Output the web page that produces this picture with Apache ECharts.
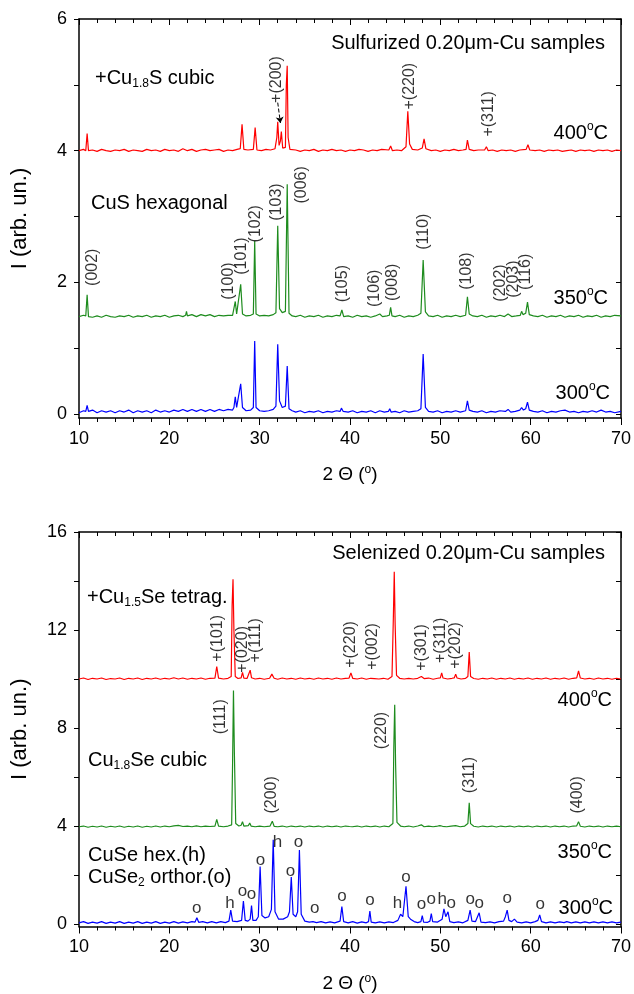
<!DOCTYPE html>
<html>
<head>
<meta charset="utf-8">
<script src="https://cdn.jsdelivr.net/npm/echarts@6/dist/echarts.min.js"></script>
<style>
  html, body { margin: 0; padding: 0; background: #fff; }
  #chart { width: 634px; height: 994px; }
</style>
</head>
<body>
<div id="chart"></div>
<script>
// --- top panel: sulfurized samples, [2theta, intensity] ---
const sulf400 = [[10,4.0],[10.5,4.02],[10.75,4.0],[10.9,4.26],[11.05,4.0],[11.5,4.01],[12,3.99],[12.5,4.02],[13,4.0],[13.5,3.99],[14,4.01],[14.5,4.0],[15,4.02],[15.5,3.99],[16,4.01],[16.5,4.0],[17,3.99],[17.5,4.02],[18,4.0],[18.5,4.01],[19,3.99],[19.5,4.02],[20,4.0],[20.5,4.01],[21,3.99],[21.5,4.03],[22,4.0],[22.5,4.02],[23,3.99],[23.5,4.01],[24,4.02],[24.5,4.0],[25,4.01],[25.5,4.02],[26,3.99],[26.5,4.01],[27,4.0],[27.5,4.02],[27.85,4.03],[28.05,4.4],[28.25,4.02],[28.7,4.01],[29.3,4.02],[29.5,4.35],[29.7,4.01],[30.2,4.0],[30.7,4.02],[31.2,4.01],[31.7,4.03],[31.9,4.2],[32.0,4.44],[32.15,4.08],[32.3,4.15],[32.4,4.29],[32.55,4.04],[32.85,4.05],[32.95,5.0],[33.05,5.29],[33.15,4.2],[33.35,4.02],[34,4.01],[34.5,3.99],[35,4.01],[35.5,4.0],[36,4.02],[36.5,3.99],[37,4.01],[37.5,4.0],[38,4.02],[38.5,4.0],[39,4.01],[39.5,3.99],[40,4.01],[40.5,4.0],[41,4.02],[41.5,4.01],[42,3.99],[42.5,4.01],[43,4.0],[43.5,4.02],[44.3,4.01],[44.5,4.07],[44.7,4.0],[45.2,4.01],[45.7,4.0],[46.2,4.06],[46.4,4.6],[46.6,4.1],[46.9,4.02],[47.5,4.01],[48.0,4.04],[48.2,4.18],[48.4,4.03],[49,4.0],[49.5,4.01],[50,3.99],[50.5,4.01],[51,4.0],[51.5,4.02],[52,4.0],[52.5,4.01],[52.85,4.02],[53.0,4.16],[53.2,4.02],[53.7,4.0],[54.2,4.01],[54.9,4.01],[55.1,4.06],[55.3,4.0],[55.8,4.01],[56.3,3.99],[56.8,4.01],[57.3,4.0],[57.8,4.01],[58.3,3.99],[58.8,4.01],[59.5,4.02],[59.7,4.09],[59.9,4.01],[60.5,4.0],[61,4.01],[61.5,3.99],[62,4.01],[62.5,4.0],[63,4.01],[63.5,3.99],[64,4.0],[64.5,4.01],[65,3.99],[65.5,4.01],[66,4.0],[66.5,4.01],[67,3.99],[67.5,4.01],[68,4.0],[68.5,4.01],[69,3.99],[69.5,4.01],[70,4.0]];

const sulf350 = [[10,1.48],[10.5,1.5],[10.75,1.49],[10.9,1.81],[11.05,1.48],[11.5,1.47],[12,1.49],[12.5,1.47],[13,1.5],[13.5,1.48],[14,1.47],[14.5,1.49],[15,1.48],[15.5,1.5],[16,1.47],[16.5,1.49],[17,1.48],[17.5,1.5],[18,1.47],[18.5,1.49],[19,1.48],[19.5,1.5],[20,1.47],[20.5,1.49],[21,1.5],[21.5,1.48],[21.8,1.5],[21.9,1.56],[22.0,1.49],[22.5,1.51],[23,1.48],[23.5,1.51],[24,1.49],[24.5,1.51],[25,1.48],[25.5,1.5],[26,1.49],[26.5,1.5],[27.0,1.5],[27.15,1.53],[27.3,1.71],[27.45,1.52],[27.6,1.55],[27.9,1.97],[28.1,1.52],[28.5,1.49],[29.0,1.5],[29.3,1.52],[29.45,2.63],[29.6,1.52],[30.0,1.49],[30.5,1.5],[31.0,1.49],[31.5,1.51],[31.8,1.54],[32.0,2.86],[32.2,1.6],[32.5,1.54],[32.85,1.56],[33.05,3.49],[33.25,1.53],[33.6,1.49],[34,1.48],[34.5,1.5],[35,1.47],[35.5,1.49],[36,1.48],[36.5,1.5],[37,1.47],[37.5,1.49],[38,1.48],[38.5,1.5],[38.9,1.49],[39.1,1.58],[39.3,1.48],[39.8,1.49],[40.3,1.47],[40.8,1.5],[41.3,1.48],[41.8,1.49],[42.3,1.47],[42.8,1.49],[43.3,1.52],[43.6,1.48],[44.1,1.49],[44.35,1.5],[44.5,1.62],[44.65,1.49],[45,1.48],[45.5,1.5],[46,1.47],[46.5,1.49],[47,1.48],[47.5,1.5],[47.85,1.53],[48.1,2.34],[48.35,1.55],[48.7,1.49],[49.2,1.48],[49.7,1.5],[50.2,1.47],[50.7,1.49],[51.2,1.48],[51.7,1.5],[52.2,1.48],[52.8,1.5],[53.0,1.78],[53.2,1.52],[53.6,1.49],[54.1,1.48],[54.6,1.5],[55.1,1.47],[55.6,1.49],[56.1,1.48],[56.6,1.5],[57.1,1.48],[57.5,1.52],[57.9,1.48],[58.4,1.49],[58.85,1.5],[59.0,1.56],[59.15,1.51],[59.45,1.53],[59.65,1.7],[59.85,1.51],[60.3,1.49],[60.8,1.48],[61.3,1.5],[61.8,1.47],[62.3,1.49],[62.8,1.48],[63.3,1.5],[63.8,1.47],[64.3,1.49],[64.8,1.48],[65.3,1.5],[65.8,1.47],[66.3,1.49],[66.8,1.48],[67.3,1.5],[67.8,1.47],[68.3,1.49],[68.8,1.48],[69.3,1.5],[70,1.49]];

const sulf300 = [[10,0.02],[10.5,0.05],[10.75,0.04],[10.9,0.13],[11.05,0.04],[11.5,0.06],[12,0.02],[12.5,0.05],[13,0.03],[13.5,0.05],[14,0.02],[14.5,0.05],[15,0.03],[15.5,0.06],[16,0.02],[16.5,0.05],[17,0.03],[17.5,0.05],[18,0.02],[18.5,0.06],[19,0.03],[19.5,0.05],[20,0.03],[20.5,0.06],[21,0.04],[21.5,0.07],[22,0.04],[22.5,0.07],[23,0.04],[23.5,0.07],[24,0.04],[24.5,0.07],[25,0.04],[25.5,0.07],[26,0.05],[26.5,0.07],[27.0,0.06],[27.15,0.1],[27.3,0.26],[27.45,0.1],[27.65,0.12],[27.9,0.46],[28.1,0.1],[28.5,0.05],[29.0,0.06],[29.3,0.1],[29.45,1.11],[29.6,0.1],[30.0,0.05],[30.5,0.04],[31.0,0.05],[31.5,0.07],[31.8,0.12],[32.0,1.06],[32.2,0.2],[32.5,0.1],[32.85,0.12],[33.05,0.73],[33.25,0.08],[33.6,0.05],[34,0.03],[34.5,0.05],[35,0.02],[35.5,0.04],[36,0.03],[36.5,0.05],[37,0.02],[37.5,0.04],[38,0.03],[38.5,0.05],[38.9,0.04],[39.05,0.09],[39.25,0.04],[39.8,0.03],[40.3,0.05],[40.8,0.02],[41.3,0.04],[41.8,0.03],[42.3,0.05],[42.8,0.02],[43.3,0.05],[43.8,0.03],[44.25,0.04],[44.4,0.08],[44.55,0.03],[45,0.04],[45.5,0.02],[46,0.05],[46.5,0.03],[47,0.04],[47.5,0.05],[47.85,0.08],[48.1,0.91],[48.35,0.1],[48.7,0.04],[49.2,0.03],[49.7,0.05],[50.2,0.02],[50.7,0.04],[51.2,0.03],[51.7,0.05],[52.2,0.03],[52.8,0.05],[53.0,0.2],[53.2,0.06],[53.6,0.04],[54.1,0.03],[54.6,0.05],[55.1,0.02],[55.6,0.04],[56.1,0.03],[56.6,0.05],[57.2,0.04],[57.5,0.07],[57.8,0.03],[58.3,0.04],[58.8,0.06],[59.0,0.1],[59.2,0.06],[59.45,0.08],[59.65,0.18],[59.85,0.06],[60.3,0.04],[60.8,0.03],[61.3,0.05],[61.8,0.02],[62.3,0.04],[62.8,0.03],[63.3,0.05],[63.8,0.06],[64.3,0.03],[64.8,0.04],[65.3,0.02],[65.8,0.04],[66.3,0.03],[66.8,0.05],[67.3,0.03],[67.8,0.06],[68.3,0.03],[68.8,0.04],[69.3,0.02],[70,0.04]];

// --- bottom panel: selenized samples ---
const sel400 = [[10,10.0],[10.5,10.04],[11,9.98],[11.5,10.03],[12,10.0],[12.5,10.04],[13,9.98],[13.5,10.02],[14,10.0],[14.5,10.04],[15,9.98],[15.5,10.03],[16,10.0],[16.5,10.04],[17,9.98],[17.5,10.03],[18,10.0],[18.5,10.04],[19,9.99],[19.5,10.03],[20,10.0],[20.5,10.05],[21,10.0],[21.5,10.04],[22,9.99],[22.5,10.03],[23,10.0],[23.5,10.04],[24,9.99],[24.5,10.03],[25.05,10.04],[25.25,10.51],[25.45,10.04],[26,10.0],[26.5,10.03],[26.85,10.1],[26.95,13.0],[27.05,14.07],[27.15,12.0],[27.3,10.1],[27.6,10.02],[27.95,10.05],[28.1,10.27],[28.25,10.04],[28.6,10.02],[28.8,10.06],[28.95,10.36],[29.1,10.05],[29.5,10.0],[30,10.03],[30.5,9.99],[31.1,10.03],[31.35,10.2],[31.6,10.03],[32,9.99],[32.5,10.04],[33,10.0],[33.5,10.03],[34,9.99],[34.5,10.04],[35,10.0],[35.5,10.03],[36,9.99],[36.5,10.04],[37,10.0],[37.5,10.03],[38,9.99],[38.5,10.04],[39,10.0],[39.5,10.03],[39.9,10.04],[40.1,10.25],[40.3,10.03],[40.8,10.0],[41.3,10.04],[41.8,9.99],[42.3,10.03],[42.5,10.1],[42.7,10.02],[43.2,10.0],[43.7,10.03],[44.2,9.99],[44.65,10.1],[44.8,12.5],[44.9,14.38],[45.0,12.2],[45.15,10.15],[45.5,10.03],[46,10.0],[46.5,10.03],[47,10.0],[47.5,10.03],[47.9,10.1],[48.2,10.02],[48.7,10.04],[49.2,9.99],[49.7,10.03],[50.0,10.05],[50.15,10.25],[50.3,10.04],[50.8,10.0],[51.3,10.03],[51.55,10.05],[51.7,10.2],[51.85,10.04],[52.3,10.0],[52.8,10.03],[53.05,10.1],[53.2,11.1],[53.35,10.1],[53.7,10.02],[54.2,9.99],[54.7,10.03],[55.2,10.0],[55.7,10.04],[56.2,9.99],[56.7,10.03],[57.2,10.0],[57.7,10.04],[58.2,9.99],[58.7,10.03],[59.2,10.0],[59.7,10.04],[60.2,9.99],[60.7,10.03],[61.2,10.0],[61.7,10.04],[62.2,9.99],[62.7,10.03],[63.2,10.0],[63.7,10.04],[64.2,9.99],[64.7,10.03],[65.1,10.05],[65.3,10.33],[65.5,10.04],[66,10.0],[66.5,10.03],[67,9.99],[67.5,10.04],[68,10.0],[68.5,10.03],[69,9.99],[69.5,10.03],[70,10.0]];

const sel350 = [[10,3.97],[10.5,4.0],[11,3.95],[11.5,3.99],[12,3.96],[12.5,4.0],[13,3.95],[13.5,3.99],[14,3.96],[14.5,4.0],[15,3.95],[15.5,3.99],[16,3.96],[16.5,4.0],[17,3.95],[17.5,3.99],[18,3.96],[18.5,4.0],[19,3.96],[19.5,4.0],[20,3.97],[20.5,4.01],[21,4.03],[21.5,3.98],[22,4.0],[22.5,3.97],[23,4.01],[23.5,3.97],[24,4.0],[24.5,3.98],[25.05,4.0],[25.25,4.27],[25.45,4.0],[26,3.97],[26.5,4.0],[26.9,4.05],[27.0,6.5],[27.1,9.53],[27.2,7.0],[27.35,4.1],[27.7,4.0],[27.95,4.03],[28.1,4.18],[28.25,4.0],[28.75,4.02],[28.9,4.12],[29.05,4.0],[29.5,3.97],[30,4.0],[30.5,3.97],[31.15,4.0],[31.4,4.2],[31.6,3.99],[32,3.97],[32.5,4.0],[33,3.96],[33.5,4.0],[34,3.97],[34.5,4.0],[35,3.96],[35.5,4.0],[36,3.97],[36.5,4.0],[37,3.96],[37.5,4.0],[38,3.97],[38.5,4.0],[39,3.96],[39.5,4.0],[39.95,3.98],[40.1,4.06],[40.25,3.97],[40.8,4.0],[41.3,3.96],[41.8,4.0],[42.3,3.97],[42.8,4.0],[43.3,3.96],[43.8,4.0],[44.3,3.97],[44.75,4.1],[44.85,7.2],[44.95,8.95],[45.05,6.5],[45.2,4.15],[45.6,4.0],[46,3.97],[46.5,4.0],[47,3.96],[47.5,4.0],[47.9,4.05],[48.2,3.97],[48.7,4.0],[49.2,3.97],[49.7,4.0],[49.95,4.02],[50.1,4.1],[50.25,3.99],[50.7,3.97],[51.2,4.0],[51.7,4.02],[52.2,3.97],[52.7,4.0],[53.05,4.1],[53.2,4.95],[53.35,4.1],[53.7,3.99],[54.2,3.96],[54.7,4.0],[55.2,3.97],[55.7,4.0],[56.2,3.96],[56.7,4.0],[57.2,3.97],[57.7,4.0],[58.2,3.96],[58.7,4.0],[59.2,3.97],[59.7,4.0],[60.2,3.96],[60.7,4.0],[61.2,3.97],[61.7,4.0],[62.2,3.96],[62.7,4.0],[63.2,3.97],[63.7,4.0],[64.2,3.96],[64.7,4.0],[65.1,4.01],[65.3,4.18],[65.5,3.99],[66,3.96],[66.5,4.0],[67,3.97],[67.5,4.0],[68,3.96],[68.5,4.0],[69,3.97],[69.5,4.0],[70,3.97]];

const sel300 = [[10,0.05],[10.5,0.1],[11,0.03],[11.5,0.08],[12,0.04],[12.5,0.1],[13,0.03],[13.5,0.08],[14,0.04],[14.5,0.1],[15,0.03],[15.5,0.08],[16,0.04],[16.5,0.1],[17,0.03],[17.5,0.08],[18,0.04],[18.5,0.1],[19,0.03],[19.5,0.08],[20,0.04],[20.5,0.1],[21,0.04],[21.5,0.09],[22,0.05],[22.5,0.1],[22.85,0.08],[23.05,0.26],[23.25,0.07],[23.7,0.1],[24.2,0.05],[24.7,0.1],[25.2,0.05],[25.7,0.1],[26.2,0.06],[26.6,0.12],[26.8,0.57],[27.0,0.12],[27.5,0.1],[28.0,0.15],[28.2,0.94],[28.4,0.15],[28.7,0.12],[28.95,0.2],[29.1,0.75],[29.25,0.15],[29.6,0.15],[29.85,0.3],[30.05,2.35],[30.25,0.35],[30.6,0.25],[31.0,0.3],[31.3,0.6],[31.5,3.44],[31.7,0.5],[32.1,0.2],[32.6,0.2],[33.1,0.3],[33.3,0.5],[33.5,1.92],[33.7,0.4],[34.0,0.3],[34.2,0.5],[34.4,3.02],[34.6,0.4],[35.0,0.12],[35.5,0.08],[35.9,0.1],[36.1,0.13],[36.3,0.06],[36.8,0.1],[37.3,0.05],[37.8,0.09],[38.3,0.05],[38.9,0.12],[39.1,0.71],[39.3,0.1],[39.8,0.05],[40.3,0.1],[40.8,0.04],[41.3,0.09],[41.8,0.05],[42.05,0.1],[42.2,0.53],[42.35,0.08],[42.8,0.05],[43.3,0.09],[43.8,0.05],[44.3,0.09],[44.8,0.06],[45.3,0.15],[45.6,0.4],[45.85,0.3],[46.2,1.54],[46.45,0.3],[46.7,0.2],[47.1,0.1],[47.5,0.06],[47.85,0.1],[48.0,0.34],[48.15,0.08],[48.6,0.07],[48.85,0.12],[49.0,0.43],[49.15,0.1],[49.7,0.08],[50.2,0.2],[50.4,0.62],[50.6,0.3],[50.85,0.5],[51.05,0.1],[51.5,0.06],[52.0,0.09],[52.5,0.05],[53.05,0.15],[53.3,0.57],[53.5,0.12],[53.9,0.1],[54.1,0.12],[54.3,0.46],[54.5,0.08],[55,0.06],[55.5,0.09],[56,0.05],[56.5,0.1],[57.0,0.12],[57.2,0.3],[57.4,0.57],[57.6,0.15],[57.9,0.1],[58.2,0.2],[58.5,0.08],[59,0.05],[59.5,0.09],[60,0.05],[60.5,0.1],[60.8,0.15],[61.0,0.37],[61.2,0.1],[61.7,0.05],[62.2,0.09],[62.7,0.05],[63.2,0.09],[63.7,0.06],[64.0,0.1],[64.5,0.05],[65,0.09],[65.5,0.05],[66,0.09],[66.5,0.05],[67,0.09],[67.5,0.05],[68,0.09],[68.5,0.05],[69,0.09],[69.5,0.05],[70,0.08]];

// peak labels: [2theta, label centre in intensity units, text]
const hklCuS = [[11.5,2.23,'(002)'],[26.6,2.02,'(100)'],[28.0,2.40,'(101)'],[29.5,2.89,'(102)'],[31.9,3.22,'(103)'],[34.6,3.48,'(006)'],[39.2,1.98,'(105)'],[42.7,1.91,'(106)'],[44.7,2.0,'(008)'],[48.2,2.77,'(110)'],[52.9,2.17,'(108)'],[56.7,1.99,'(202)'],[58.1,2.05,'(203)'],[59.4,2.16,'(116)']];
const hklCu18S = [[31.9,5.08,'+(200)'],[46.6,4.98,'+(220)'],[55.3,4.56,'+(311)']];
const hklCu15Se = [[25.36,11.66,'+(101)'],[28.1,11.21,'+(020)'],[29.56,11.58,'+(111)'],[40.06,11.41,'+(220)'],[42.5,11.33,'+(002)'],[47.9,11.29,'+(301)'],[50.0,11.58,'+(311)'],[51.66,11.37,'+(202)']];
const hklCu18Se = [[25.7,8.46,'(111)'],[31.3,5.27,'(200)'],[43.5,7.9,'(220)'],[53.2,6.08,'(311)'],[65.25,5.27,'(400)']];
const phaseMarks = [[23.04,0.63,'o'],[26.7,0.83,'h'],[28.1,1.35,'o'],[29.1,1.23,'o'],[30.1,2.6,'o'],[31.96,3.33,'h'],[33.4,2.16,'o'],[34.3,3.33,'o'],[36.1,0.63,'o'],[39.1,1.15,'o'],[42.2,0.95,'o'],[45.25,0.83,'h'],[46.2,1.92,'o'],[47.9,0.79,'o'],[49.0,0.99,'o'],[50.2,0.99,'h'],[51.2,0.83,'o'],[53.3,0.99,'o'],[54.3,0.83,'o'],[57.4,1.03,'o'],[61.05,0.79,'o']];
const arrow200 = [[32.0,4.73],[32.3,4.42]];

const topTicks = [0,1,2,3,4,5,6], topLabels = [0,2,4,6];
const botTicks = [0,2,4,6,8,10,12,14,16], botLabels = [0,4,8,12,16];

const FONT = 'Liberation Sans, Arial, sans-serif';
const chart = echarts.init(document.getElementById('chart'));

function xAxes(grid) {
  const base = {
    gridIndex: grid, type: 'value', min: 10, max: 70, interval: 10,
    splitLine: { show: false },
    axisLine: { show: true, onZero: false, lineStyle: { color: '#000', width: 1.5 } },
    minorTick: { show: true, splitNumber: 5, length: 4, lineStyle: { color: '#000' } },
  };
  return [
    Object.assign({}, base, {
      position: 'bottom',
      axisTick: { show: true, length: 7, lineStyle: { color: '#000' } },
      axisLabel: { color: '#000', fontSize: 18, fontFamily: FONT, margin: 12 },
      name: '{n|2 \u0398 (}{s|o}{n|)}', nameLocation: 'middle', nameGap: 46,
      nameTextStyle: { color: '#000', rich: {
        n: { fontSize: 19, fontFamily: FONT, color: '#000', lineHeight: 22 },
        s: { fontSize: 12, fontFamily: FONT, color: '#000', verticalAlign: 'top', lineHeight: 12 } } }
    }),
    Object.assign({}, base, {
      position: 'top',
      axisTick: { show: true, inside: true, length: 6, lineStyle: { color: '#000' } },
      minorTick: { show: true, splitNumber: 5, length: 4, lineStyle: { color: '#000' } },
      axisLabel: { show: false }
    })
  ];
}

function yAxes(grid, min, max, ticks, labels) {
  const base = {
    gridIndex: grid, type: 'value', min: min, max: max,
    splitLine: { show: false },
    axisLine: { show: true, onZero: false, lineStyle: { color: '#000', width: 1.5 } }
  };
  return [
    Object.assign({}, base, {
      position: 'left',
      axisTick: { show: true, length: 5, customValues: ticks, lineStyle: { color: '#000' } },
      axisLabel: { color: '#000', fontSize: 18, fontFamily: FONT, margin: 12, customValues: labels },
      name: 'I (arb. un.)', nameLocation: 'middle', nameGap: 48,
      nameTextStyle: { color: '#000', fontSize: 22, fontFamily: FONT }
    }),
    Object.assign({}, base, {
      position: 'right',
      axisTick: { show: true, inside: true, length: 5, customValues: ticks, lineStyle: { color: '#000' } },
      axisLabel: { show: false }
    })
  ];
}

function trace(data, color, xi, yi, extra) {
  return Object.assign({
    type: 'line', data: data, xAxisIndex: xi, yAxisIndex: yi,
    showSymbol: false, symbol: 'none', animation: false,
    lineStyle: { color: color, width: 1.2 }, itemStyle: { color: color }, z: 3
  }, extra || {});
}

function labels(arr, xi, yi, rotate, size) {
  return {
    type: 'scatter', xAxisIndex: xi, yAxisIndex: yi, symbolSize: 1, silent: true,
    itemStyle: { color: 'rgba(0,0,0,0)' }, animation: false, z: 5,
    data: arr.map(d => ({ value: [d[0], d[1]], name: d[2] })),
    label: { show: true, position: 'inside', formatter: '{b}', rotate: rotate,
             color: '#000', fontSize: size, fontFamily: FONT },
    labelLayout: { hideOverlap: false }
  };
}

const rich = {
  n: { fontSize: 20, fontFamily: FONT, color: '#000', lineHeight: 24 },
  sub: { fontSize: 12, fontFamily: FONT, color: '#000', lineHeight: 12, padding: [12, 0, 0, 0] },
  sup: { fontSize: 12, fontFamily: FONT, color: '#000', lineHeight: 12, padding: [0, 0, 12, 0] }
};
function txt(x, y, text, align) {
  return { type: 'text', x: x, y: y, z: 10, silent: true,
    style: { text: text, rich: rich, align: align || 'left', verticalAlign: 'middle', fill: '#000' } };
}

const option = {
  backgroundColor: '#fff',
  animation: false,
  grid: [
    { left: 79, right: 12, top: 19, height: 399 },
    { left: 79, right: 11, top: 532, height: 398 }
  ],
  xAxis: xAxes(0).concat(xAxes(1)),
  yAxis: yAxes(0, -0.06, 6, topTicks, topLabels).concat(yAxes(1, -0.1, 16, botTicks, botLabels)),
  series: [
    trace(sulf400, '#ff0000', 0, 0, {
      markLine: { silent: true, symbol: ['none', 'arrow'], symbolSize: 6, animation: false,
        label: { show: false }, lineStyle: { color: '#000', type: 'dashed', width: 1 },
        data: [[{ coord: arrow200[0] }, { coord: arrow200[1] }]] }
    }),
    trace(sulf350, '#1e8c1e', 0, 0),
    trace(sulf300, '#0000ff', 0, 0),
    trace(sel400, '#ff0000', 2, 2),
    trace(sel350, '#1e8c1e', 2, 2),
    trace(sel300, '#0000ff', 2, 2),
    labels(hklCuS, 0, 0, 90, 16),
    labels(hklCu18S, 0, 0, 90, 16),
    labels(hklCu15Se, 2, 2, 90, 16),
    labels(hklCu18Se, 2, 2, 90, 16),
    labels(phaseMarks, 2, 2, 0, 17)
  ],
  graphic: [
    txt(605, 43, '{n|Sulfurized 0.20\u03bcm-Cu samples}', 'right'),
    txt(95, 78, '{n|+Cu}{sub|1.8}{n|S cubic}'),
    txt(608, 133, '{n|400}{sup|o}{n|C}', 'right'),
    txt(91, 203, '{n|CuS hexagonal}'),
    txt(608, 298, '{n|350}{sup|o}{n|C}', 'right'),
    txt(610, 393, '{n|300}{sup|o}{n|C}', 'right'),
    txt(605, 553, '{n|Selenized 0.20\u03bcm-Cu samples}', 'right'),
    txt(87, 597, '{n|+Cu}{sub|1.5}{n|Se tetrag.}'),
    txt(612, 700, '{n|400}{sup|o}{n|C}', 'right'),
    txt(88, 760, '{n|Cu}{sub|1.8}{n|Se cubic}'),
    txt(612, 852, '{n|350}{sup|o}{n|C}', 'right'),
    txt(88, 855, '{n|CuSe hex.(h)}'),
    txt(88, 877, '{n|CuSe}{sub|2}{n| orthor.(o)}'),
    txt(613, 908, '{n|300}{sup|o}{n|C}', 'right')
  ]
};
chart.setOption(option);
</script>
</body>
</html>
